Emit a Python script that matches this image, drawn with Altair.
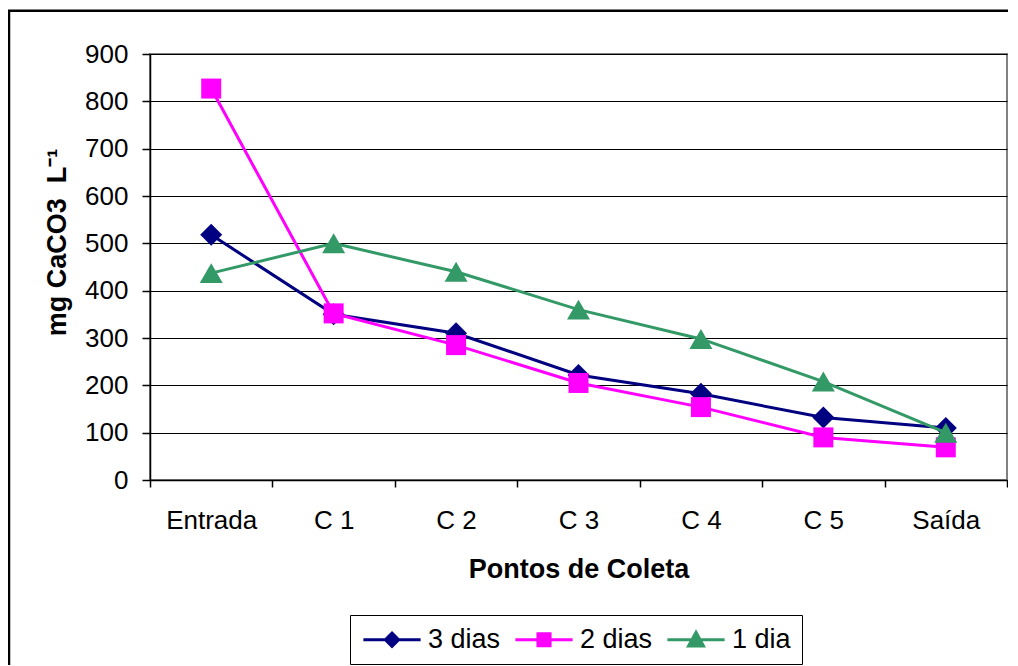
import altair as alt
import pandas as pd

categories = ["Entrada", "C 1", "C 2", "C 3", "C 4", "C 5", "Saída"]
series = ["3 dias", "2 dias", "1 dia"]
vals_3dias = [518, 350, 310, 222, 182, 132, 110]
vals_2dias = [827, 352, 285, 205, 154, 90, 69]
vals_1dia = [437, 500, 440, 360, 298, 208, 100]
colors = ["#000080", "#FF00FF", "#339966"]
shapes = ["diamond", "square", "triangle-up"]
sizes = [484, 400, 529]
y_ticks = [0, 100, 200, 300, 400, 500, 600, 700, 800, 900]

rows = []
for s, vals in zip(series, [vals_3dias, vals_2dias, vals_1dia]):
    for c, v in zip(categories, vals):
        rows.append({"ponto": c, "serie": s, "valor": v})
df = pd.DataFrame(rows)

FONT = "Liberation Sans"
W, H = 857, 426

# legend symbols: a line segment through each marker
legend_paths = [
    "M-2.6,0H2.6M0,-0.6L0.6,0L0,0.6L-0.6,0Z",
    "M-2.6,0H2.6M-0.55,-0.55H0.55V0.55H-0.55Z",
    "M-2.6,0H2.6M0,-0.68L0.68,0.56H-0.68Z",
]

x_enc = alt.X(
    "ponto:N",
    sort=categories,
    bandPosition=0.5,
    scale=alt.Scale(type="band", domain=categories, paddingInner=0, paddingOuter=0),
    axis=alt.Axis(
        title="Pontos de Coleta",
        labelAngle=0,
        tickBand="extent",
        tickSize=7,
        labelPadding=20,
        labelBaseline="top",
        titleY=97,
        titleBaseline="alphabetic",
        grid=False,
    ),
)
y_enc = alt.Y(
    "valor:Q",
    scale=alt.Scale(domain=[0, 900], nice=False),
    axis=alt.Axis(
        title="mg CaCO3\u00a0\u00a0L⁻¹",
        values=y_ticks,
        tickSize=8,
        labelPadding=14,
        titleX=-85,
        titleY=188,
        titleBaseline="alphabetic",
        titleAlign="center",
        titleAngle=-90,
        titleFontSize=27,
        grid=True,
    ),
)

legend = alt.Legend(
    title=None,
    orient="none",
    legendX=200,
    legendY=561,
    direction="horizontal",
    strokeColor="#000000",
    fillColor="#ffffff",
    padding=11,
    symbolSize=484,
    symbolOffset=17.5,
    labelOffset=22.5,
    columnPadding=8,
    labelFont=FONT,
    labelFontSize=27,
    labelColor="#000000",
    symbolStrokeWidth=3,
    symbolOpacity=1,
)

line_layers = []
point_layers = []
for s, col, shp, sz in zip(series, colors, shapes, sizes):
    base = alt.Chart(df).transform_filter(alt.datum.serie == s)
    line_layers.append(
        base.mark_line(strokeWidth=3, color=col).encode(x=x_enc, y=y_enc)
    )
    point_layers.append(
        base.mark_point(filled=True, opacity=1, shape=shp, size=sz, color=col).encode(x=x_enc, y=y_enc)
    )

legend_layer = (
    alt.Chart(df)
    .transform_filter("false")
    .mark_point(filled=True, opacity=1, strokeWidth=3)
    .encode(
        x=x_enc,
        y=y_enc,
        color=alt.Color("serie:N", sort=series, scale=alt.Scale(domain=series, range=colors), legend=legend),
        stroke=alt.Stroke("serie:N", sort=series, scale=alt.Scale(domain=series, range=colors), legend=legend),
        shape=alt.Shape("serie:N", sort=series, scale=alt.Scale(domain=series, range=legend_paths), legend=legend),
    )
)

frame = alt.Chart(alt.Data(values=[{"f": 1}])).mark_rect(
    fillOpacity=0, stroke="#000000", strokeWidth=2.5, clip=False
).encode(
    x=alt.value(-141),
    x2=alt.value(1100),
    y=alt.value(-43.3),
    y2=alt.value(900),
)

layers = [frame]
for ln, pt in zip(line_layers, point_layers):
    layers.extend([ln, pt])
layers.append(legend_layer)

chart = alt.layer(*layers).properties(
    width=W,
    height=H,
    padding={"left": 142, "top": 46, "right": 1, "bottom": 185},
    autosize=alt.AutoSizeParams(type="none"),
    background="#ffffff",
).configure_view(
    stroke="#808080", strokeWidth=2
).configure_axis(
    labelFont=FONT,
    labelFontSize=26,
    labelColor="#000000",
    titleFont=FONT,
    titleFontSize=27,
    titleFontWeight="bold",
    titleColor="#000000",
    domainColor="#000000",
    domainWidth=1.5,
    tickColor="#000000",
    tickWidth=1.5,
    gridColor="#000000",
    gridWidth=1,
    gridOpacity=1,
)

chart.save("out.html", embed_options={"renderer": "svg", "actions": False})
